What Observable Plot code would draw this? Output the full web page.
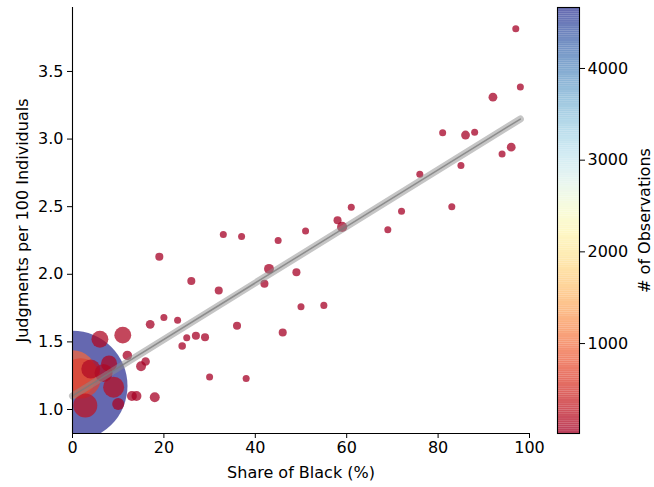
<!DOCTYPE html>
<html><head><meta charset="utf-8">
<script src="https://cdn.jsdelivr.net/npm/d3@7"></script>
<script src="https://cdn.jsdelivr.net/npm/@observablehq/plot@0.6"></script>
<style>
body{margin:0;background:#fff;}
#wrap{position:relative;width:654px;height:487px;}
#main{position:absolute;left:0;top:0;}
#cbar{position:absolute;left:545px;top:0;}
#wrap svg, #wrap svg text{font-family:"DejaVu Sans",sans-serif;}
</style></head><body><div id="wrap"><div id="main"></div><div id="cbar"></div></div>
<script>
// Share of Black population (%)
const share = [97.0, 98.0, 92.0, 81.0, 86.0, 88.0, 96.0, 94.0, 85.0, 76.0,
  61.0, 72.0, 83.0, 69.0, 58.0, 59.0, 33.0, 37.0, 45.0, 51.0,
  43.0, 49.0, 42.0, 26.0, 32.0, 19.0, 50.0, 55.0, 36.0, 46.0,
  17.0, 20.0, 23.0, 25.0, 27.0, 29.0, 24.0, 30.0, 38.0, 11.0,
  6.0, 12.0, 16.0, 15.0, 8.0, 4.0, 6.8, 9.0, 2.8, 10.0,
  13.0, 14.0, 18.0, 0.0, 0.0, 1.8];
// Judgments per 100 individuals
const judgments = [3.815, 3.385, 3.31, 3.047, 3.03, 3.05, 2.94, 2.89, 2.805, 2.74,
  2.495, 2.467, 2.50, 2.33, 2.40, 2.35, 2.295, 2.28, 2.25, 2.32,
  2.04, 2.015, 1.93, 1.95, 1.88, 2.13, 1.76, 1.77, 1.62, 1.57,
  1.63, 1.68, 1.66, 1.53, 1.545, 1.535, 1.47, 1.24, 1.23, 1.55,
  1.52, 1.40, 1.355, 1.32, 1.34, 1.30, 1.27, 1.165, 1.03, 1.04,
  1.10, 1.10, 1.09, 1.175, 1.26, 1.23];
// Number of observations
const observations = [19, 19, 30, 19, 30, 19, 30, 19, 19, 19,
  19, 19, 19, 19, 25, 40, 19, 19, 19, 19,
  38, 25, 25, 25, 25, 25, 19, 19, 25, 25,
  30, 19, 19, 19, 25, 25, 22, 19, 19, 110,
  110, 35, 28, 38, 99, 139, 125, 170, 222, 56,
  38, 38, 38, 4665, 900, 620];

const xTicks = [0, 20, 40, 60, 80, 100];
const yTicks = [1.0, 1.5, 2.0, 2.5, 3.0, 3.5];
const cbarTicks = [1000, 2000, 3000, 4000];
const fitIntercept = 1.10;
const fitSlope = 0.0209;
const xLabel = "Share of Black (%)";
const yLabel = "Judgments per 100 Individuals";
const cLabel = "# of Observations";

const data = share.map((s, i) => ({share: s, judg: judgments[i], obs: observations[i]}))
  .sort((a, b) => b.obs - a.obs);
const obsMin = d3.min(observations), obsMax = d3.max(observations);
const colorScale = {type: "linear", scheme: "rdylbu", domain: [obsMin, obsMax]};
const yDomain = [0.8225, 3.973];
const fitX = [d3.min(share), d3.max(share)];
const fit = fitX.map(x => ({x, y: fitIntercept + fitSlope * x}));
const fs = 16;
const ff = "DejaVu Sans";
const font = {fontFamily: ff, fontSize: fs + "px", background: "transparent"};

const main = Plot.plot({
  width: 545, height: 487,
  marginLeft: 72, marginRight: 16, marginTop: 7, marginBottom: 54,
  style: font,
  x: {domain: [0, 100]},
  y: {domain: yDomain},
  r: {type: "sqrt", domain: [0, obsMax], range: [0, 55]},
  color: colorScale,
  marks: [
    Plot.dot(data, {x: "share", y: "judg", r: "obs", fill: "obs", fillOpacity: 0.75, stroke: "none", clip: true, sort: null}),
    Plot.line(fit, {x: "x", y: "y", stroke: "#8c8c8c", strokeOpacity: 0.5, strokeWidth: 7, strokeLinecap: "round"}),
    Plot.line(fit, {x: "x", y: "y", stroke: "#7a7a7a", strokeOpacity: 0.75, strokeWidth: 1.5}),
    Plot.ruleX([0], {stroke: "black", strokeWidth: 1.1}),
    Plot.ruleY([yDomain[0]], {stroke: "black", strokeWidth: 1.1}),
    Plot.axisX({ticks: xTicks, tickSize: 5, tickPadding: 3, label: null, fontSize: fs, fontFamily: ff}),
    Plot.axisY({ticks: yTicks, tickFormat: d3.format(".1f"), tickSize: 5, tickPadding: 4, label: null, fontSize: fs, fontFamily: ff}),
    Plot.text([xLabel], {frameAnchor: "bottom", textAnchor: "middle", lineAnchor: "middle", dy: 39, fill: "black", fontSize: fs, fontFamily: ff}),
    Plot.text([yLabel], {frameAnchor: "left", textAnchor: "middle", lineAnchor: "middle", rotate: -90, dx: -50, fill: "black", fontSize: fs, fontFamily: ff})
  ]
});
document.getElementById("main").appendChild(main);

const nb = 200;
const bands = d3.range(nb).map(i => ({
  y1: obsMin + (obsMax - obsMin) * i / nb,
  y2: obsMin + (obsMax - obsMin) * (i + 1) / nb,
  v: obsMin + (obsMax - obsMin) * (i + 0.5) / nb
}));
const cbar = Plot.plot({
  width: 109, height: 487,
  marginLeft: 12, marginRight: 75, marginTop: 7, marginBottom: 54,
  style: font,
  x: {domain: [0, 1], axis: null},
  y: {domain: [obsMin, obsMax]},
  color: colorScale,
  marks: [
    Plot.rect(bands, {x1: 0, x2: 1, y1: "y1", y2: "y2", fill: "v", fillOpacity: 0.75}),
    Plot.frame({stroke: "black", strokeWidth: 1.1}),
    Plot.axisY({anchor: "right", ticks: cbarTicks, tickFormat: d3.format("d"), tickSize: 5, tickPadding: 3, label: null, fontSize: fs, fontFamily: ff}),
    Plot.text([cLabel], {frameAnchor: "right", textAnchor: "middle", lineAnchor: "middle", rotate: -90, dx: 65, fill: "black", fontSize: fs, fontFamily: ff})
  ]
});
document.getElementById("cbar").appendChild(cbar);
</script></body></html>
